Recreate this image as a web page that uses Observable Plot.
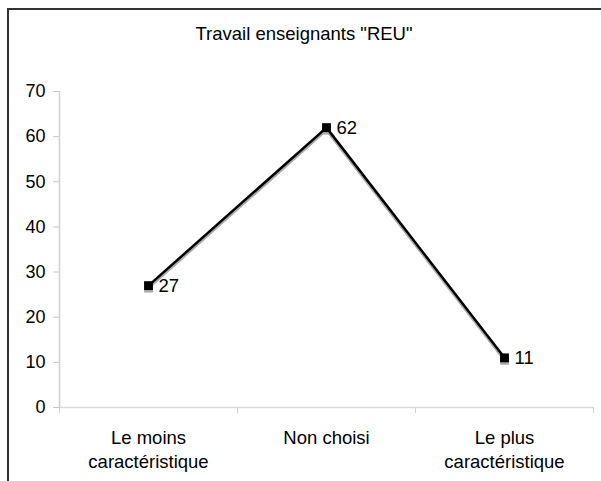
<!DOCTYPE html>
<html><head><meta charset="utf-8">
<script src="https://cdn.jsdelivr.net/npm/d3@7"></script>
<script src="https://cdn.jsdelivr.net/npm/@observablehq/plot@0.6"></script>
<style>
body{margin:0;background:#fff;font-family:"Liberation Sans",Arial,sans-serif;}
#wrap{position:relative;width:601px;height:481px;overflow:hidden;}
#frame{position:absolute;left:7px;top:8px;width:620px;height:500px;border-top:2px solid #333;border-left:2px solid #333;}
#title{position:absolute;left:7px;width:594px;top:23px;text-align:center;font-size:18.5px;line-height:22px;color:#000;}
#chart{position:absolute;left:0;top:0;}
</style>
</head><body>
<div id="wrap"><div id="frame"></div><div id="chart"></div><div id="title">Travail enseignants "REU"</div></div>
<script>
const categories = ["Le moins\ncaractéristique", "Non choisi", "Le plus\ncaractéristique"];
const values = [27, 62, 11];
const yTicks = [0, 10, 20, 30, 40, 50, 60, 70];
const bounds = [0, 1, 2, 3];

const idx = categories.map((_, i) => i);
const X = i => i + 0.5;
const Y = i => values[i];

const plot = Plot.plot({
  width: 601, height: 481,
  marginLeft: 59, marginRight: 8, marginTop: 91, marginBottom: 74,
  style: {fontFamily: "Liberation Sans, Arial, sans-serif", fontSize: "18px", background: "transparent", color: "#000"},
  x: {type: "linear", domain: [0, 3], axis: null},
  y: {domain: [0, 70], axis: null},
  marks: [
    Plot.ruleY([0], {stroke: "#dadada", strokeWidth: 1.5}),
    Plot.ruleX([0], {stroke: "#d0d0d0", strokeWidth: 1.5}),
    Plot.axisY(yTicks, {tickSize: 6, tickPadding: 8, stroke: "#c8c8c8", fill: "#000", fontSize: 18, label: null}),
    Plot.axisX(bounds, {tickSize: 6, stroke: "#d0d0d0", tickFormat: () => "", label: null}),
    Plot.text(idx, {x: X, text: i => categories[i], frameAnchor: "bottom", lineAnchor: "top", dy: 20, lineHeight: 1.28, fontSize: 18.5, fill: "#000"}),
    Plot.line(idx, {x: X, y: Y, stroke: "#aaa", strokeWidth: 2.5, dy: 2.5}),
    Plot.dot(idx, {x: X, y: Y, symbol: "square", r: 5, fill: "#aaa", dy: 2.5}),
    Plot.line(idx, {x: X, y: Y, stroke: "#000", strokeWidth: 2.5}),
    Plot.dot(idx, {x: X, y: Y, symbol: "square", r: 5, fill: "#000"}),
    Plot.text(idx, {x: X, y: Y, text: i => String(values[i]), dx: 10, textAnchor: "start", fontSize: 18.5, fill: "#000"})
  ]
});
document.getElementById("chart").appendChild(plot);
</script>
</body></html>
